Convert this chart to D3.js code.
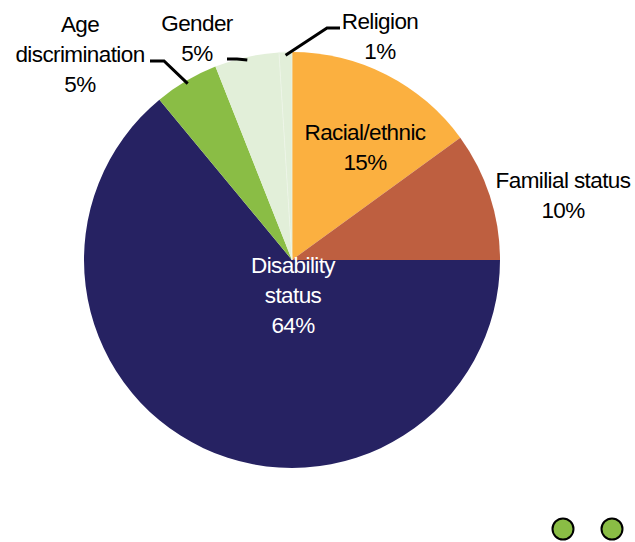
<!DOCTYPE html>
<html>
<head>
<meta charset="utf-8">
<script src="https://cdn.jsdelivr.net/npm/d3@7"></script>
<style>
  html, body { margin: 0; padding: 0; background: #fff; }
  svg text { font-family: "Liberation Sans", Arial, sans-serif; font-size: 22.5px; letter-spacing: -0.6px; }
</style>
</head>
<body>
<svg id="chart" width="635" height="542"></svg>
<script>
// Share of fair housing complaints by basis
const categories = ["Racial/ethnic", "Familial status", "Disability status", "Age discrimination", "Gender", "Religion"];
const shares = [15, 10, 64, 5, 5, 1];
const colors = ["#FBB040", "#BE5F40", "#262262", "#8ABD45", "#E2EFD9", "#E2EFD9"];
const labelLines = [
  ["Racial/ethnic", "15%"],
  ["Familial status", "10%"],
  ["Disability", "status", "64%"],
  ["Age", "discrimination", "5%"],
  ["Gender", "5%"],
  ["Religion", "1%"]
];
const legendItems = ["", ""];

const cx = 292, cy = 260, r = 208;
const svg = d3.select("#chart");
const g = svg.append("g").attr("transform", `translate(${cx},${cy})`);

const data = categories.map((c, i) => ({ name: c, value: shares[i], color: colors[i], lines: labelLines[i] }));
const pie = d3.pie().value(d => d.value).sort(null);
const arcs = pie(data);
const arc = d3.arc().innerRadius(0).outerRadius(r);

g.selectAll("path.slice")
  .data(arcs)
  .join("path")
  .attr("class", "slice")
  .attr("d", arc)
  .attr("fill", d => d.data.color)
  .attr("stroke", d => d.data.name === "Religion" ? "#EEF5E8" : "none")
  .attr("stroke-width", 0.8);

// label anchor positions (relative to pie centre) and leader-line geometry
const labelPos = {
  "Racial/ethnic":      { x: 73,   y: -120, fill: "#000" },
  "Familial status":    { x: 271,  y: -72,  fill: "#000" },
  "Disability status":  { x: 1,    y: 13,   fill: "#fff" },
  "Age discrimination": { x: -212, y: -228, fill: "#000", leader: { hx: -128, hy: -199, len: 14 } },
  "Gender":             { x: -95,  y: -229, fill: "#000", leader: { hx: -55,  hy: -201, len: 10 } },
  "Religion":           { x: 88,   y: -231, fill: "#000", leader: { hx: 35,   hy: -232, len: -13 } }
};
const lineH = 30;

arcs.forEach(a => {
  const p = labelPos[a.data.name];
  const t = g.append("text")
    .attr("text-anchor", "middle")
    .attr("fill", p.fill);
  a.data.lines.forEach((ln, i) => {
    t.append("tspan").attr("x", p.x).attr("y", p.y + i * lineH).text(ln);
  });
  if (p.leader) {
    const mid = (a.startAngle + a.endAngle) / 2;
    const er = r * 0.985;
    const ex = Math.sin(mid) * er, ey = -Math.cos(mid) * er;
    const L = p.leader;
    g.append("polyline")
      .attr("points", [[L.hx - L.len, L.hy], [L.hx, L.hy], [ex, ey]].map(q => q.join(",")).join(" "))
      .attr("fill", "none")
      .attr("stroke", "#000")
      .attr("stroke-width", 3)
      .attr("stroke-linejoin", "miter");
  }
});

// legend markers
const lx = d3.scalePoint().domain(d3.range(legendItems.length)).range([563, 612]);
svg.selectAll("circle.legend")
  .data(legendItems)
  .join("circle")
  .attr("class", "legend")
  .attr("cx", (d, i) => lx(i))
  .attr("cy", 529)
  .attr("r", 10.5)
  .attr("fill", "#8ABD45")
  .attr("stroke", "#000")
  .attr("stroke-width", 2);
</script>
</body>
</html>
